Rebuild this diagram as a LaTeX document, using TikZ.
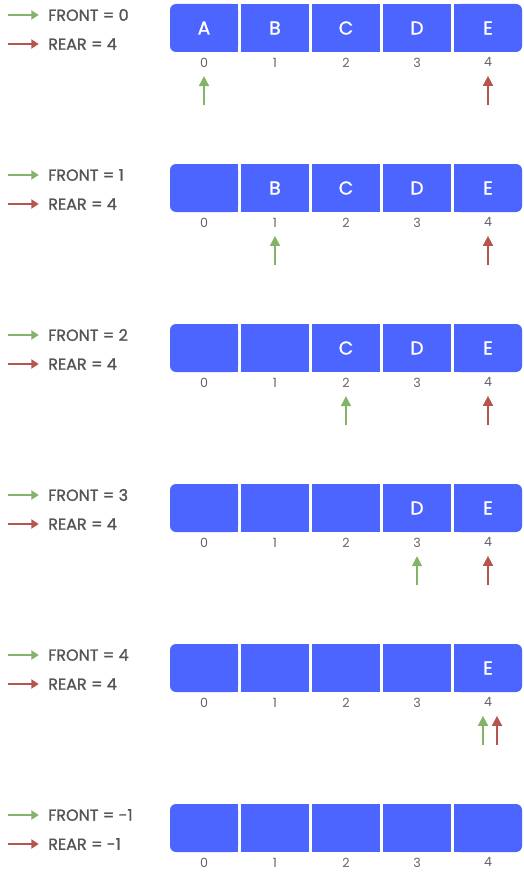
\documentclass[tikz,border=0pt]{standalone}
\usepackage{fontspec}
\setmainfont{Poppins}
\newfontfamily\medfont[FakeBold=1.2]{Poppins}
\usetikzlibrary{arrows.meta, positioning}
\definecolor{qblue}{RGB}{76,101,255}
\definecolor{frontgreen}{RGB}{130,179,102}
\definecolor{rearred}{RGB}{184,84,80}
\definecolor{textgray}{RGB}{85,85,85}
\definecolor{idxgray}{RGB}{100,100,100}

\begin{document}
\begin{tikzpicture}[
    x=0.75pt, y=-0.75pt,
    cell/.style={
        fill=qblue,
        minimum width=51pt,
        minimum height=36pt,
        inner sep=0pt,
        text=white,
        font=\medfont\fontsize{14}{14}\selectfont
    },
    endcell/.style={
        cell,
        rounded corners=4.5pt
    },
    index/.style={
        inner sep=0pt,
        text=idxgray,
        font=\fontsize{9.5}{9.5}\selectfont
    },
    legend/.style={
        inner sep=0pt,
        anchor=west,
        text=textgray,
        font=\medfont\fontsize{12}{12}\selectfont
    },
    frontptr/.style={
        -{Triangle[length=7.5pt,width=7.5pt]},
        line width=1.3pt,
        draw=frontgreen
    },
    rearptr/.style={
        frontptr,
        draw=rearred
    },
    frontkey/.style={
        -{Triangle[length=5.5pt,width=7pt]},
        line width=1pt,
        draw=frontgreen
    },
    rearkey/.style={
        frontkey,
        draw=rearred
    }
]
\useasboundingbox (0,0) rectangle (524,874);

\foreach \r/\fr/\re/\items in {0/0/4/{A,B,C,D,E}, 1/1/4/{{},B,C,D,E},
    2/2/4/{{},{},C,D,E}, 3/3/4/{{},{},{},D,E}, 4/4/4/{{},{},{},{},E},
    5/-1/-1/{{},{},{},{},{}}}{
    % Legend
    \node (front\r) [legend] at (48,{15+160*\r}) {FRONT = \fr};
    \node (rear\r) [legend] at (48,{44+160*\r}) {REAR = \re};
    \coordinate (fa\r) at (8,{15+160*\r});
    \coordinate (ra\r) at (8,{44+160*\r});
    \draw [frontkey, shorten >=7pt] (fa\r) -- (front\r.west);
    \draw [rearkey, shorten >=7pt] (ra\r) -- (rear\r.west);

    % Array cells and indices
    \foreach \t [count=\k from 0] in \items {
        \ifnum\k=0
            \node (c\r-\k) [endcell] at ({204+71*\k},{28+160*\r}) {\t};
            \fill [qblue] ([xshift=-6pt]c\r-\k.north east) rectangle (c\r-\k.south east);
        \else\ifnum\k=4
            \node (c\r-\k) [endcell] at ({204+71*\k},{28+160*\r}) {\t};
            \fill [qblue] (c\r-\k.north west) rectangle ([xshift=6pt]c\r-\k.south west);
        \else
            \node (c\r-\k) [cell] at ({204+71*\k},{28+160*\r}) {\t};
        \fi\fi
        \node (i\r-\k) [index, below=4pt of c\r-\k] {\k};
    }

    % Pointers
    \ifnum\fr>-1
        \ifnum\fr=\re \def\fsh{-3.75pt}\def\rsh{6.75pt}\else\def\fsh{0pt}\def\rsh{0pt}\fi
        \coordinate (fp\r) at ([xshift=\fsh, yshift=-28pt]i\r-\fr.south);
        \coordinate (rp\r) at ([xshift=\rsh, yshift=-28pt]i\r-\re.south);
        \draw [frontptr, shorten >=6.5pt] (fp\r) -- ([xshift=\fsh]i\r-\fr.south);
        \draw [rearptr, shorten >=6.5pt] (rp\r) -- ([xshift=\rsh]i\r-\re.south);
    \fi
}

\end{tikzpicture}
\end{document}
